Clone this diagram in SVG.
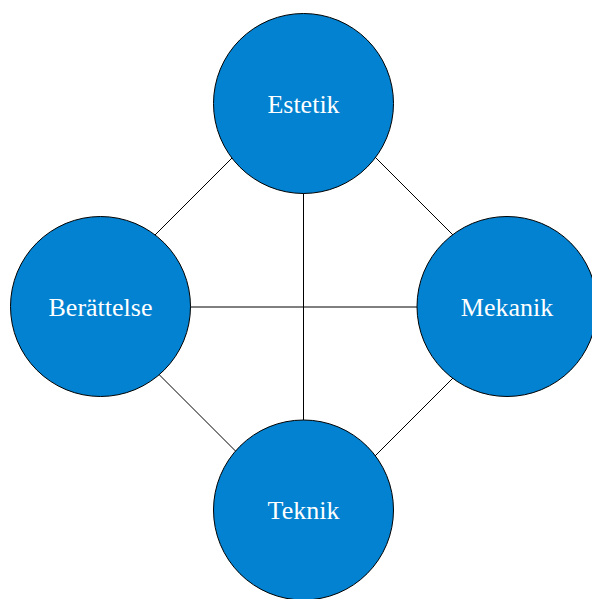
<svg xmlns="http://www.w3.org/2000/svg" width="592" height="599" viewBox="0 0 592 599">
<style>
.n{fill:#0282d0;stroke:#000;stroke-width:1}
.t{fill:#fff;font-family:"Liberation Serif","Times New Roman",serif;font-size:26px;text-anchor:middle}
.c line{stroke:#000;stroke-width:1}
</style>
<rect width="592" height="599" fill="#fff"/>
<g id="connectors" class="c">
<line x1="245" y1="145" x2="145" y2="245"/>
<line x1="362" y1="144" x2="462" y2="244"/>
<line x1="303.5" y1="103.5" x2="303.5" y2="510"/>
<line x1="100.5" y1="307" x2="507" y2="307"/>
<line x1="145" y1="360.5" x2="245" y2="460.5"/>
<line x1="466" y1="365" x2="366" y2="465"/>
</g>
<g id="estetik"><circle class="n" cx="303.5" cy="103.5" r="90"/><text class="t" x="303.5" y="112.5">Estetik</text></g>
<g id="berattelse"><circle class="n" cx="100.5" cy="306.5" r="90"/><text class="t" x="100.5" y="315.5">Berättelse</text></g>
<g id="mekanik"><circle class="n" cx="507" cy="306.5" r="90"/><text class="t" x="507" y="315.5">Mekanik</text></g>
<g id="teknik"><circle class="n" cx="303.5" cy="510" r="90"/><text class="t" x="303.5" y="519">Teknik</text></g>
</svg>
